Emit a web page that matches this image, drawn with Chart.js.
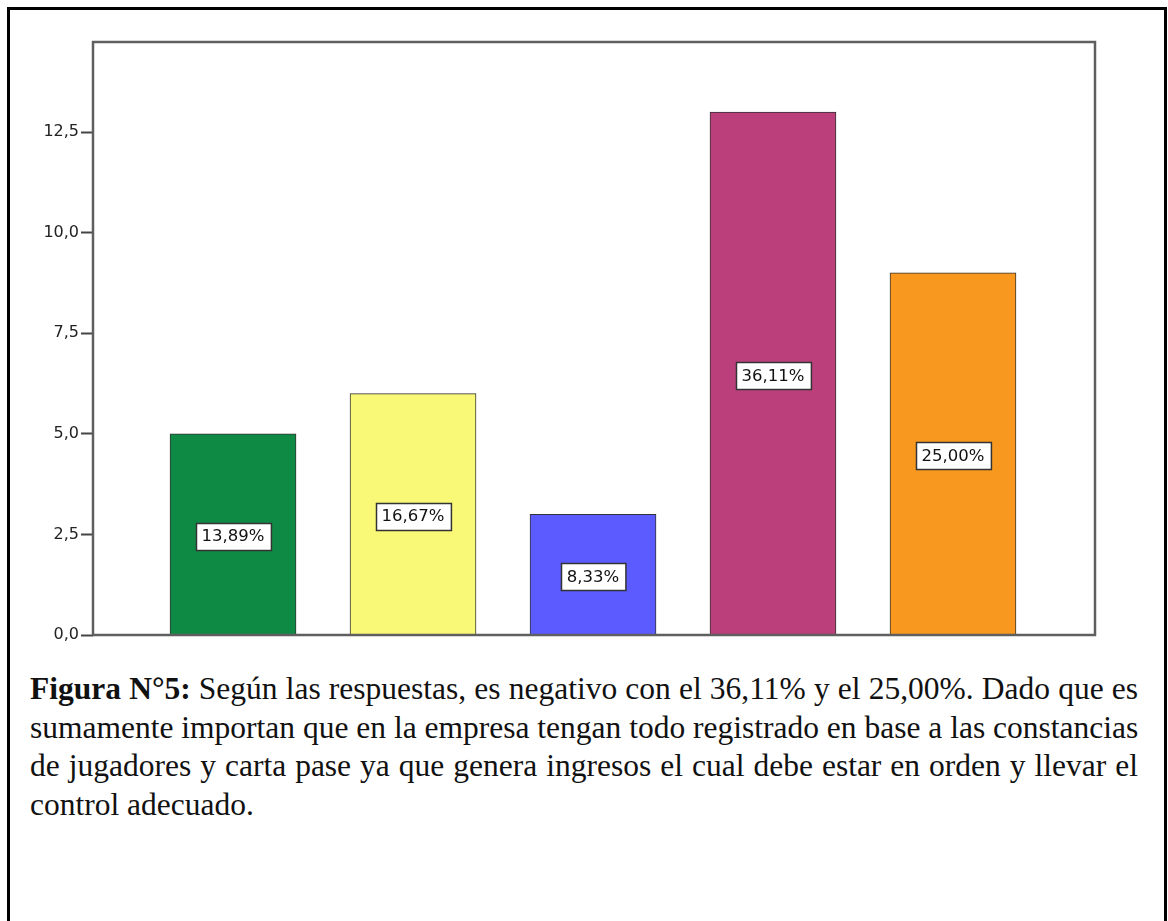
<!DOCTYPE html>
<html lang="es">
<head>
<meta charset="utf-8">
<title>Figura N°5</title>
<script src="https://cdn.jsdelivr.net/npm/chart.js@4.4.1/dist/chart.umd.min.js"></script>
<style>
  html, body { margin: 0; padding: 0; background: #fff; }
  body { width: 1168px; height: 921px; position: relative; overflow: hidden; }
  #frame { position: absolute; left: 7px; top: 7px; width: 1154px; height: 1000px; border: 3px solid #000; }
  #chart { position: absolute; left: 0; top: 0; }
  #caption { position: absolute; left: 30px; top: 670px; width: 1108px;
             font-family: "Liberation Serif", "Times New Roman", serif; font-size: 31.5px;
             line-height: 38.5px; color: #111; }
  #caption .ln { text-align: justify; text-align-last: justify; white-space: nowrap; }
  #caption .ln.last { text-align: left; text-align-last: left; }
</style>
</head>
<body>
<div id="frame"></div>
<canvas id="chart" width="1168" height="660"></canvas>
<div id="caption">
  <div class="ln"><b>Figura N°5:</b> Según las respuestas, es negativo con el 36,11% y el 25,00%. Dado que es</div>
  <div class="ln">sumamente importan que en la empresa tengan todo registrado en base a las constancias</div>
  <div class="ln">de jugadores y carta pase ya que genera ingresos el cual debe estar en orden y llevar el</div>
  <div class="ln last">control adecuado.</div>
</div>
<script>
// Response counts per answer option
const categories = ["1", "2", "3", "4", "5"];
const counts = [5, 6, 3, 13, 9];
const barColors = ["#0f8a45", "#f9f877", "#5b5bff", "#ba3f7a", "#f8981f"];
const yTicks = [0, 2.5, 5, 7.5, 10, 12.5];

const total = counts.reduce((a, b) => a + b, 0);
const fmtComma = (v, d) => v.toFixed(d).replace('.', ',');

// Gray box around the plotting area
const plotFrame = {
  id: 'plotFrame',
  afterDatasetsDraw(chart) {
    const { ctx, chartArea: a } = chart;
    ctx.save();
    ctx.strokeStyle = '#5f5f5f';
    ctx.lineWidth = 2.5;
    ctx.strokeRect(a.left, a.top, a.right - a.left, a.bottom - a.top);
    ctx.restore();
  }
};

// Percentage boxes centred in each bar
const pctLabels = {
  id: 'pctLabels',
  afterDatasetsDraw(chart) {
    const { ctx } = chart;
    const meta = chart.getDatasetMeta(0);
    ctx.save();
    ctx.font = '16.5px "DejaVu Sans", sans-serif';
    ctx.textAlign = 'center';
    ctx.textBaseline = 'middle';
    meta.data.forEach((bar, i) => {
      const txt = fmtComma(counts[i] / total * 100, 2) + '%';
      const cx = bar.x;
      const cy = (bar.y + bar.base) / 2 + 2;
      const w = ctx.measureText(txt).width + 12;
      const h = 27;
      const x0 = Math.round(cx - w / 2) + 0.5;
      const y0 = Math.round(cy - h / 2) + 0.5;
      ctx.fillStyle = '#ffffff';
      ctx.fillRect(x0, y0, w, h);
      ctx.strokeStyle = '#333';
      ctx.lineWidth = 1.5;
      ctx.strokeRect(x0, y0, w, h);
      ctx.fillStyle = '#111';
      ctx.fillText(txt, cx, cy + 1);
    });
    ctx.restore();
  }
};

new Chart(document.getElementById('chart'), {
  type: 'bar',
  data: {
    datasets: [{
      data: counts.map((v, i) => ({ x: i, y: v })),
      backgroundColor: barColors,
      borderColor: '#333',
      borderWidth: 1,
      barThickness: 126
    }]
  },
  options: {
    responsive: false,
    animation: false,
    devicePixelRatio: 1,
    layout: { padding: { left: 0, top: 42, right: 73, bottom: 25 } },
    plugins: { legend: { display: false }, tooltip: { enabled: false } },
    scales: {
      x: {
        type: 'linear',
        min: -0.778,
        max: 4.789,
        offset: false,
        display: false
      },
      y: {
        min: 0,
        max: 14.74,
        afterFit(scale) { scale.width = 93; },
        afterBuildTicks(scale) { scale.ticks = yTicks.map(v => ({ value: v })); },
        ticks: {
          callback: v => fmtComma(v, 1),
          font: { family: '"DejaVu Sans", sans-serif', size: 16 },
          color: '#222',
          padding: 2
        },
        grid: {
          drawOnChartArea: false,
          drawTicks: true,
          tickLength: 12,
          tickColor: '#444',
          tickWidth: 2
        },
        border: { display: false }
      }
    }
  },
  plugins: [plotFrame, pctLabels]
});
</script>
</body>
</html>
